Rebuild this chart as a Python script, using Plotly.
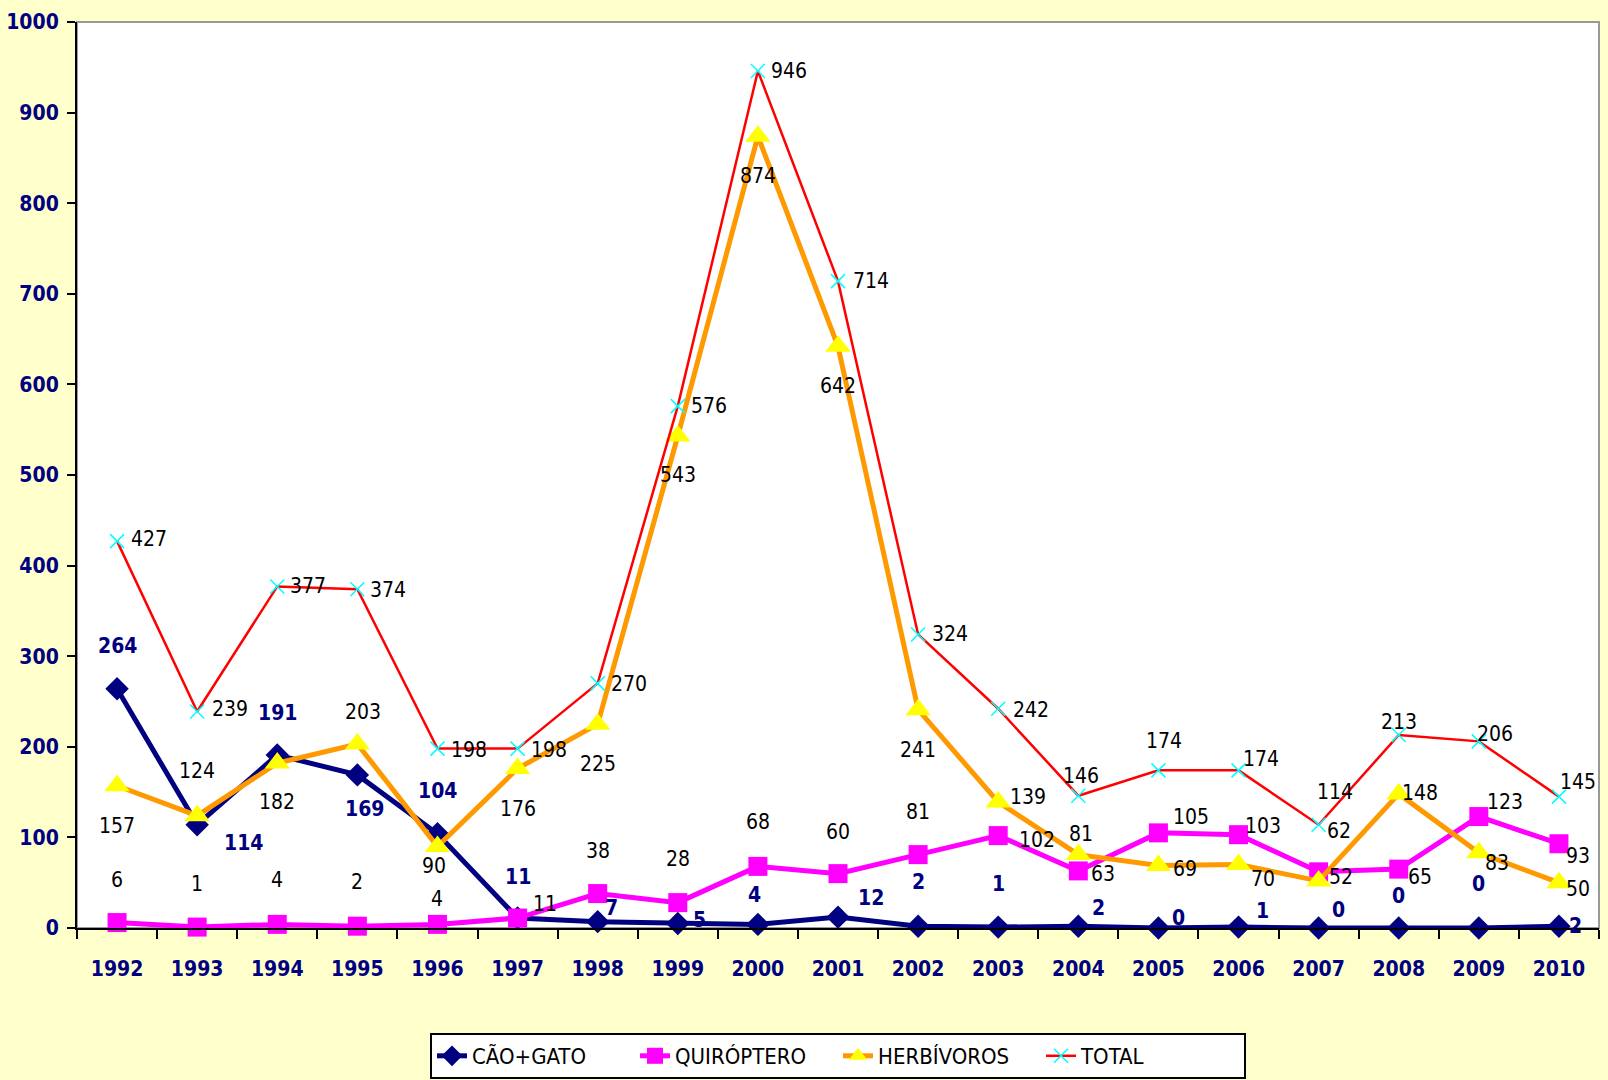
import plotly.graph_objects as go

years = ["1992", "1993", "1994", "1995", "1996", "1997", "1998", "1999", "2000", "2001",
         "2002", "2003", "2004", "2005", "2006", "2007", "2008", "2009", "2010"]
cao_gato = [264, 114, 191, 169, 104, 11, 7, 5, 4, 12, 2, 1, 2, 0, 1, 0, 0, 0, 2]
quiroptero = [6, 1, 4, 2, 4, 11, 38, 28, 68, 60, 81, 102, 63, 105, 103, 62, 65, 123, 93]
herbivoros = [157, 124, 182, 203, 90, 176, 225, 543, 874, 642, 241, 139, 81, 69, 70, 52, 148, 83, 50]
total = [427, 239, 377, 374, 198, 198, 270, 576, 946, 714, 324, 242, 146, 174, 174, 114, 213, 206, 145]
y_ticks = [0, 100, 200, 300, 400, 500, 600, 700, 800, 900, 1000]

# label offsets (pixels, dx right, dy down) - styling only
off_cao = [(0, -43), (46, 18), (0, -42), (7, 34), (0, -43), (0, -41), (14, -14), (22, -3), (-3, -29),
           (33, -19), (0, -44), (0, -43), (20, -18), (20, -10), (24, -16), (20, -18), (0, -32), (0, -44), (17, 0)]
off_qui = [(0, -43), (0, -43), (0, -44), (0, -44), (0, -25), (27, -14), (0, -43), (0, -44), (0, -44),
           (0, -42), (0, -43), (39, 4), (25, 3), (33, -16), (24, -9), (20, -41), (21, 8), (26, -15), (19, 12)]
off_her = [(0, 40), (0, -45), (0, 39), (6, -32), (-3, 20), (0, 40), (0, 40), (0, 39), (0, 40),
           (0, 40), (0, 40), (30, -5), (3, -21), (27, 4), (24, 14), (22, -4), (21, -1), (18, 10), (19, 6)]
off_tot = [(32, -2), (33, -2), (31, 0), (31, 1), (32, 1), (31, 1), (31, 1), (31, 0), (31, 0),
           (33, 0), (32, 0), (33, 1), (3, -20), (6, -29), (22, -11), (16, -33), (0, -13), (16, -7), (19, -15)]

FONT = "DejaVu Sans Condensed, Liberation Sans Narrow, Arial Narrow, sans-serif"
NAVY = "#000080"

fig = go.Figure()
fig.add_trace(go.Scatter(x=years, y=cao_gato, name="CÃO+GATO", mode="lines+markers",
                         line=dict(color=NAVY, width=5),
                         marker=dict(symbol="diamond", size=18, color=NAVY), cliponaxis=False))
fig.add_trace(go.Scatter(x=years, y=quiroptero, name="QUIRÓPTERO", mode="lines+markers",
                         line=dict(color="#FF00FF", width=5),
                         marker=dict(symbol="square", size=19, color="#FF00FF"), cliponaxis=False))
fig.add_trace(go.Scatter(x=years, y=herbivoros, name="HERBÍVOROS", mode="lines+markers",
                         line=dict(color="#FF9900", width=5),
                         marker=dict(symbol="triangle-up", size=22, color="#FFFF00"), cliponaxis=False))
fig.add_trace(go.Scatter(x=years, y=total, name="TOTAL", mode="lines+markers",
                         line=dict(color="#FF0000", width=2.5),
                         marker=dict(symbol="x-thin", size=14, color="#00FFFF",
                                     line=dict(color="#00FFFF", width=1.5)), cliponaxis=False))

annotations = []
def add_labels(vals, offs, color, bold):
    for i, (v, (dx, dy)) in enumerate(zip(vals, offs)):
        txt = f"<b>{v}</b>" if bold else str(v)
        annotations.append(dict(x=i, y=v, xref="x", yref="y", text=txt, showarrow=False,
                                xshift=dx, yshift=-dy,
                                font=dict(family=FONT, size=21, color=color)))

add_labels(cao_gato, off_cao, NAVY, True)
add_labels(quiroptero, off_qui, "#000000", False)
add_labels(herbivoros, off_her, "#000000", False)
add_labels(total, off_tot, "#000000", False)

fig.update_layout(
    width=1608, height=1080,
    paper_bgcolor="#FFFFCC", plot_bgcolor="#FFFFFF",
    margin=dict(l=77, r=9, t=22, b=152, autoexpand=False),
    showlegend=True,
    legend=dict(orientation="h", x=0.5, xanchor="center", xref="paper",
                y=1 - 1033 / 1080, yanchor="top", yref="container",
                bgcolor="#FFFFFF", bordercolor="#000000", borderwidth=2,
                font=dict(family=FONT, size=22, color="#000000"),
                entrywidth=158, traceorder="normal"),
    annotations=annotations,
    shapes=[dict(type="rect", xref="paper", yref="paper", x0=0, y0=0, x1=1, y1=1,
                 line=dict(color="#999999", width=2), layer="below")],
    xaxis=dict(type="category", range=[-0.5, 18.5], showgrid=False, zeroline=False,
               showline=True, linecolor="#000000", linewidth=2, automargin=False,
               ticks="outside", tickson="boundaries", ticklen=9, tickwidth=2, tickcolor="#000000",
               ticklabelstandoff=21,
               tickfont=dict(family=FONT, size=21, color=NAVY, weight="bold")),
    yaxis=dict(range=[0, 1000], tickvals=y_ticks, showgrid=False, zeroline=False,
               showline=True, linecolor="#000000", linewidth=2, automargin=False,
               ticks="outside", ticklen=8, tickwidth=2, tickcolor="#000000",
               ticklabelstandoff=4,
               tickfont=dict(family=FONT, size=21, color=NAVY, weight="bold")),
)

fig.write_html("out.html", config={"displayModeBar": False},
               post_script="document.body.style.margin='0';")
